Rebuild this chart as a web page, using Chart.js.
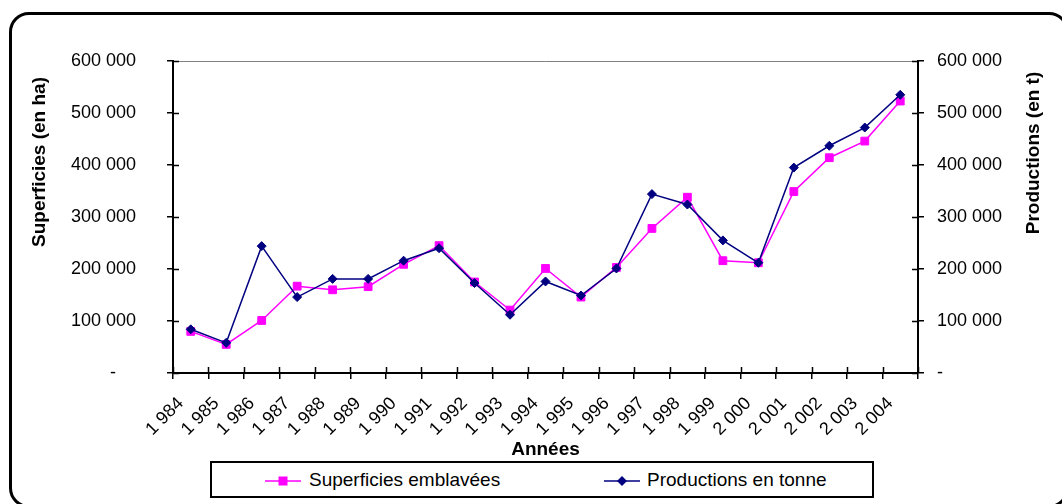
<!DOCTYPE html>
<html lang="fr">
<head>
<meta charset="utf-8">
<title>Superficies et productions</title>
<script src="https://cdn.jsdelivr.net/npm/chart.js@4.4.1/dist/chart.umd.min.js"></script>
<style>
    body { margin: 0; background: #fff; font-family: "Liberation Sans", Arial, sans-serif; }
    #wrap { position: relative; width: 1062px; height: 504px; overflow: hidden; }
    #frame { position: absolute; left: 9px; top: 12px; width: 1060px; height: 496px; box-sizing: border-box;
             border: 3px solid #000; border-radius: 20px; pointer-events: none; }
    #legend { position: absolute; left: 210px; top: 461px; width: 664px; height: 37px; box-sizing: border-box;
              border: 2px solid #000; background: #fff; }
    .item { position: absolute; top: 0; height: 33px; line-height: 33px; font-size: 19px; color: #000; white-space: nowrap; }
    .mark { position: absolute; top: 10px; }
</style>
</head>
<body>
<div id="wrap">
    <canvas id="myChart" width="1062" height="504"></canvas>
    <div id="legend"></div>
    <div id="frame"></div>
</div>
<script>
// donnees
var years = ['1 984', '1 985', '1 986', '1 987', '1 988', '1 989', '1 990', '1 991', '1 992', '1 993', '1 994',
    '1 995', '1 996', '1 997', '1 998', '1 999', '2 000', '2 001', '2 002', '2 003', '2 004'];
var superficies = [80000, 55000, 101000, 167000, 160000, 166000, 209000, 245000, 175000, 121000, 201000,
    146000, 203000, 278000, 338000, 216000, 212000, 349000, 414000, 446000, 523000];
var productions = [84000, 58000, 244000, 146000, 181000, 181000, 216000, 240000, 173000, 112000, 176000,
    149000, 201000, 344000, 324000, 255000, 212000, 395000, 437000, 472000, 535000];
var leftTickLabels = ['-    ', '100 000', '200 000', '300 000', '400 000', '500 000', '600 000'];
var rightTickLabels = ['-', '100 000', '200 000', '300 000', '400 000', '500 000', '600 000'];

var PINK = '#FF00FF';
var NAVY = '#000080';
var FONT = '"Liberation Sans", Arial, sans-serif';

Chart.defaults.font.family = FONT;
Chart.defaults.color = '#000';

// petits traits vers l'interieur + titres verticaux
var excelAxes = {
    id: 'excelAxes',
    afterDraw: function (chart) {
        var ctx = chart.ctx;
        var area = chart.chartArea;
        var x = chart.scales.x;
        var yl = chart.scales.y;
        ctx.save();

        // bord haut gris de la zone de tracé
        ctx.strokeStyle = '#808080';
        ctx.lineWidth = 1;
        ctx.beginPath();
        ctx.moveTo(area.left, area.top + 0.5);
        ctx.lineTo(area.right, area.top + 0.5);
        ctx.stroke();

        ctx.strokeStyle = '#000';
        ctx.lineWidth = 1.5;
        ctx.beginPath();
        yl.ticks.forEach(function (t, i) {
            var py = Math.round(yl.getPixelForTick(i)) + 0.5;
            ctx.moveTo(area.left, py);
            ctx.lineTo(area.left + 6, py);
            ctx.moveTo(area.right, py);
            ctx.lineTo(area.right - 6, py);
        });
        var step = x.getPixelForTick(1) - x.getPixelForTick(0);
        for (var i = 0; i <= years.length; i++) {
            var px = Math.round(x.getPixelForTick(0) - step / 2 + i * step) + 0.5;
            ctx.moveTo(px, area.bottom);
            ctx.lineTo(px, area.bottom - 6);
        }
        ctx.stroke();

        ctx.fillStyle = '#000';
        ctx.font = 'bold 19px ' + FONT;
        ctx.textAlign = 'center';
        ctx.textBaseline = 'middle';
        ctx.translate(40, 162);
        ctx.rotate(-Math.PI / 2);
        ctx.fillText('Superficies (en ha)', 0, 0);
        ctx.setTransform(1, 0, 0, 1, 0, 0);
        ctx.translate(1034, 153);
        ctx.rotate(-Math.PI / 2);
        ctx.fillText('Productions (en t)', 0, 0);
        ctx.restore();
    }
};

function yAxis(position, labels, pad, width) {
    return {
        type: 'linear',
        position: position,
        min: 0,
        max: 600000,
        ticks: {
            stepSize: 100000,
            padding: pad,
            font: { size: 18 },
            callback: function (value, index) { return labels[index]; }
        },
        grid: { drawOnChartArea: false, drawTicks: true, tickLength: 6, color: '#000', lineWidth: 1.5 },
        border: { display: true, color: '#000', width: 2 },
        afterFit: function (scale) { scale.width = width; }
    };
}

function drawChart() {
    var ctx = document.getElementById('myChart').getContext('2d');
    new Chart(ctx, {
        type: 'line',
        data: {
            labels: years,
            datasets: [
                {
                    label: 'Superficies emblavées',
                    data: superficies,
                    yAxisID: 'y',
                    order: 1,
                    borderColor: PINK,
                    backgroundColor: PINK,
                    borderWidth: 1.5,
                    pointStyle: 'rect',
                    pointRadius: 5.5,
                    pointBorderWidth: 1,
                    pointBackgroundColor: PINK,
                    pointBorderColor: PINK,
                    tension: 0
                },
                {
                    label: 'Productions en tonne',
                    data: productions,
                    yAxisID: 'y2',
                    order: 0,
                    borderColor: NAVY,
                    backgroundColor: NAVY,
                    borderWidth: 1.5,
                    pointStyle: 'rectRot',
                    pointRadius: 4.5,
                    pointBorderWidth: 1,
                    pointBackgroundColor: NAVY,
                    pointBorderColor: NAVY,
                    tension: 0
                }]
        },
        options: {
            responsive: false,
            animation: false,
            layout: { padding: { left: 0, right: 0, top: 61, bottom: 40 } },
            plugins: {
                legend: { display: false },
                tooltip: { enabled: false }
            },
            scales: {
                x: {
                    type: 'category',
                    offset: true,
                    grid: { offset: true, drawOnChartArea: false, drawTicks: true, tickLength: 6, color: '#000', lineWidth: 1.5 },
                    border: { display: true, color: '#000', width: 2 },
                    ticks: { autoSkip: false, minRotation: 45, maxRotation: 45, padding: 14, labelOffset: -10, font: { size: 18 } },
                    title: { display: true, text: 'Années', font: { size: 19, weight: 'bold' }, padding: { top: 0, bottom: 3 } },
                    afterFit: function (scale) { scale.height = 91; }
                },
                y: yAxis('left', leftTickLabels, 31, 173),
                y2: yAxis('right', rightTickLabels, 13, 144)
            }
        },
        plugins: [excelAxes]
    });
}

// legende dans un cadre, comme sous Excel
function legendMark(color, shape) {
    var m = shape === 'rect'
        ? '<rect x="13.5" y="1.5" width="9" height="9" fill="' + color + '"/>'
        : '<polygon points="18,1 23,6 18,11 13,6" fill="' + color + '"/>';
    return '<svg width="36" height="12"><line x1="0" y1="6" x2="36" y2="6" stroke="' + color + '" stroke-width="1.5"/>' + m + '</svg>';
}

function buildLegend() {
    var legend = document.getElementById('legend');
    legend.innerHTML =
        '<span class="mark" style="left:53px">' + legendMark(PINK, 'rect') + '</span>' +
        '<span class="item" style="left:97px">Superficies emblavées</span>' +
        '<span class="mark" style="left:392px">' + legendMark(NAVY, 'rot') + '</span>' +
        '<span class="item" style="left:435px">Productions en tonne</span>';
}

window.onload = function () {
    drawChart();
    buildLegend();
};
</script>
</body>
</html>
